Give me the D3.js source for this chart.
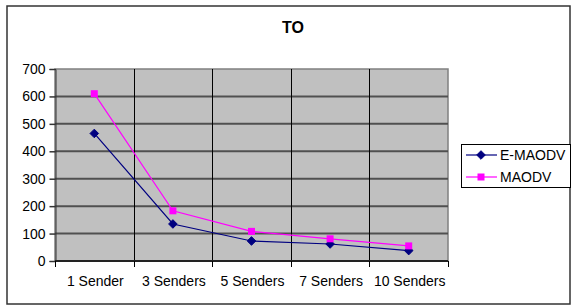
<!DOCTYPE html>
<html>
<head>
<meta charset="utf-8">
<script src="https://cdn.jsdelivr.net/npm/d3@7"></script>
<style>
  body { margin: 0; background: #fff; }
  text { font-family: "Liberation Sans", Arial, sans-serif; }
</style>
</head>
<body>
<script>
var categories = ["1 Sender", "3 Senders", "5 Senders", "7 Senders", "10 Senders"];
var emaodv = [465, 135, 73, 62, 38];
var maodv = [610, 183, 108, 81, 55];
var yTicks = [0, 100, 200, 300, 400, 500, 600, 700];
var seriesNames = ["E-MAODV", "MAODV"];

var W = 572, H = 306;
var plot = {left: 55, top: 69, right: 448, bottom: 261};

var svg = d3.select("body").append("svg")
    .attr("width", W).attr("height", H);

// outer frame
svg.append("rect")
    .attr("x", 7).attr("y", 6)
    .attr("width", 563).attr("height", 298)
    .attr("fill", "#fff")
    .attr("stroke", "#333").attr("stroke-width", 1.5);

// title
svg.append("text")
    .attr("x", 293).attr("y", 33)
    .attr("text-anchor", "middle")
    .attr("font-size", "16px").attr("font-weight", "bold")
    .text("TO");

var x = d3.scaleBand()
    .domain(categories)
    .range([plot.left, plot.right]);

var y = d3.scaleLinear()
    .domain([0, 700])
    .range([plot.bottom, plot.top]);

// plot background
svg.append("rect")
    .attr("x", plot.left).attr("y", plot.top)
    .attr("width", plot.right - plot.left)
    .attr("height", plot.bottom - plot.top)
    .attr("fill", "#c0c0c0")
    .attr("stroke", "#808080").attr("stroke-width", 1.5);

// horizontal gridlines
svg.selectAll(".hgrid")
    .data(yTicks.filter(function(d){ return d > 0 && d < 700; }))
    .enter().append("line")
    .attr("x1", plot.left).attr("x2", plot.right)
    .attr("y1", function(d){ return y(d); })
    .attr("y2", function(d){ return y(d); })
    .attr("stroke", "#505050").attr("stroke-width", 2);

// vertical gridlines at category boundaries
svg.selectAll(".vgrid")
    .data(categories.slice(1))
    .enter().append("line")
    .attr("x1", function(d){ return Math.round(x(d)) + 0.5; })
    .attr("x2", function(d){ return Math.round(x(d)) + 0.5; })
    .attr("y1", plot.top).attr("y2", plot.bottom)
    .attr("stroke", "#000").attr("stroke-width", 1);

// y axis
var yAxis = d3.axisLeft(y).tickValues(yTicks).tickSize(6).tickPadding(4);
var gy = svg.append("g")
    .attr("transform", "translate(" + (plot.left + 0.5) + ",0)")
    .call(yAxis);
gy.select(".domain").attr("stroke", "#333");
gy.selectAll(".tick line").attr("stroke", "#333").attr("stroke-width", 1.5);
gy.selectAll("text").attr("font-size", "14px").attr("fill", "#000")
    .attr("font-family", "Liberation Sans, Arial, sans-serif");

// x axis: ticks at category boundaries
var bounds = categories.map(function(d){ return x(d); }).concat([plot.right]);
var gx = svg.append("g");
gx.append("line")
    .attr("x1", plot.left).attr("x2", plot.right)
    .attr("y1", plot.bottom).attr("y2", plot.bottom)
    .attr("stroke", "#222").attr("stroke-width", 2);
gx.selectAll(".xt").data(bounds).enter().append("line")
    .attr("x1", function(d){ return Math.round(d) + 0.5; })
    .attr("x2", function(d){ return Math.round(d) + 0.5; })
    .attr("y1", plot.bottom).attr("y2", plot.bottom + 6)
    .attr("stroke", "#000");
gx.selectAll(".xl").data(categories).enter().append("text")
    .attr("x", function(d){ return x(d) + x.bandwidth() / 2 + 1; })
    .attr("y", 286)
    .attr("text-anchor", "middle")
    .attr("font-size", "14px")
    .text(function(d){ return d; });

var line = d3.line()
    .x(function(d, i){ return x(categories[i]) + x.bandwidth() / 2; })
    .y(function(d){ return y(d); });

// E-MAODV
svg.append("path").datum(emaodv)
    .attr("d", line).attr("fill", "none")
    .attr("stroke", "#000080").attr("stroke-width", 1.2);
// MAODV
svg.append("path").datum(maodv)
    .attr("d", line).attr("fill", "none")
    .attr("stroke", "#ff00ff").attr("stroke-width", 1.2);

// rounded diamond marker, 8px across
var diamondPath = "M0,-4.3L4.3,0L0,4.3L-4.3,0Z";
svg.selectAll(".dm").data(emaodv).enter().append("path")
    .attr("d", diamondPath)
    .attr("transform", function(d, i){ return "translate(" + (x(categories[i]) + x.bandwidth() / 2) + "," + y(d) + ")"; })
    .attr("fill", "#000080")
    .attr("stroke", "#000080").attr("stroke-width", 1).attr("stroke-linejoin", "round");

svg.selectAll(".sq").data(maodv).enter().append("rect")
    .attr("x", function(d, i){ return x(categories[i]) + x.bandwidth() / 2 - 3.5; })
    .attr("y", function(d){ return y(d) - 3.5; })
    .attr("width", 7).attr("height", 7)
    .attr("fill", "#ff00ff");

// legend
var lg = svg.append("g");
lg.append("rect")
    .attr("x", 461.5).attr("y", 144.5)
    .attr("width", 109).attr("height", 43)
    .attr("fill", "#fff").attr("stroke", "#000");
var colors = ["#000080", "#ff00ff"];
seriesNames.forEach(function(name, i){
    var cy = 155 + i * 22;
    lg.append("line")
        .attr("x1", 466).attr("x2", 497)
        .attr("y1", cy).attr("y2", cy)
        .attr("stroke", colors[i]).attr("stroke-width", 1.2);
    if (i === 0) {
        lg.append("path").attr("d", diamondPath)
            .attr("transform", "translate(481," + cy + ")")
            .attr("fill", colors[i])
            .attr("stroke", colors[i]).attr("stroke-linejoin", "round");
    } else {
        lg.append("rect").attr("x", 477.5).attr("y", cy - 3.5)
            .attr("width", 7).attr("height", 7).attr("fill", colors[i]);
    }
    lg.append("text")
        .attr("x", 500).attr("y", cy + 5)
        .attr("font-size", "14px")
        .text(name);
});
</script>
</body>
</html>
